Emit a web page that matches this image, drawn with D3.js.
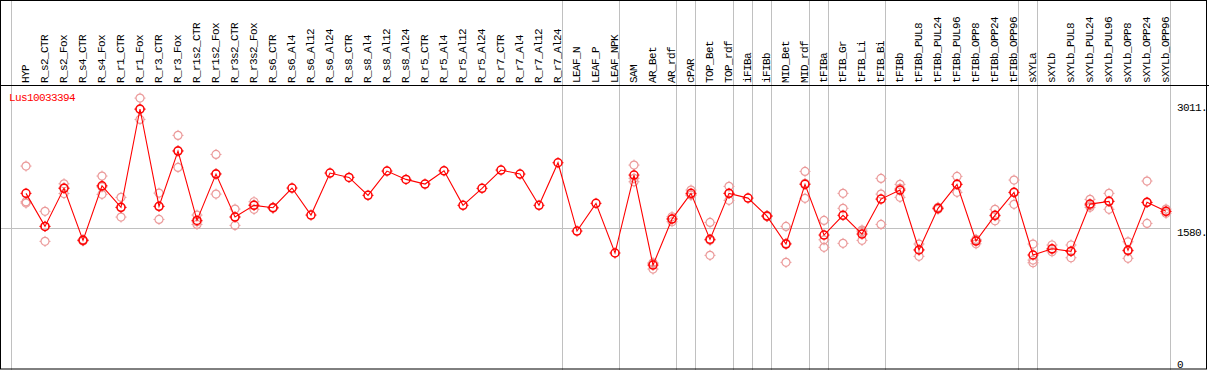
<!DOCTYPE html>
<html>
<head>
<meta charset="utf-8">
<script src="https://cdn.jsdelivr.net/npm/d3@7"></script>
<style>
  body { margin: 0; background: #fff; }
  svg { display: block; font-family: "Liberation Mono", "DejaVu Sans Mono", monospace; font-size: 11px; letter-spacing: -0.6px; }
</style>
</head>
<body>
<div id="chart"></div>
<script>
let width = 1209;
let height = 370;

// sample names along the top
let samples = ["HYP", "R_s2_CTR", "R_s2_Fox", "R_s4_CTR", "R_s4_Fox", "R_r1_CTR", "R_r1_Fox",
  "R_r3_CTR", "R_r3_Fox", "R_r1s2_CTR", "R_r1s2_Fox", "R_r3s2_CTR", "R_r3s2_Fox", "R_s6_CTR",
  "R_s6_Al4", "R_s6_Al12", "R_s6_Al24", "R_s8_CTR", "R_s8_Al4", "R_s8_Al12", "R_s8_Al24",
  "R_r5_CTR", "R_r5_Al4", "R_r5_Al12", "R_r5_Al24", "R_r7_CTR", "R_r7_Al4", "R_r7_Al12",
  "R_r7_Al24", "LEAF_N", "LEAF_P", "LEAF_NPK", "SAM", "AR_Bet", "AR_rdf", "cPAR", "TOP_Bet",
  "TOP_rdf", "iFIBa", "iFIBb", "MID_Bet", "MID_rdf", "tFIBa", "tFIB_Gr", "tFIB_Li", "tFIB_Bi",
  "tFIBb", "tFIBb_PUL8", "tFIBb_PUL24", "tFIBb_PUL96", "tFIBb_OPP8", "tFIBb_OPP24",
  "tFIBb_OPP96", "sXYLa", "sXYLb", "sXYLb_PUL8", "sXYLb_PUL24", "sXYLb_PUL96", "sXYLb_OPP8",
  "sXYLb_OPP24", "sXYLb_OPP96"];

// mean expression per sample
let means = [1997, 1600, 2057, 1432, 2088, 1829, 3011, 1841, 2505, 1672, 2229, 1712, 1853, 1824,
  2061, 1736, 2241, 2189, 1973, 2265, 2165, 2109, 2268, 1853, 2057, 2277, 2229, 1853, 2365,
  1544, 1877, 1280, 2217, 1135, 1688, 1997, 1444, 1997, 1940, 1724, 1388, 2105, 1496, 1733,
  1508, 1928, 2037, 1316, 1817, 2105, 1424, 1733, 2009, 1256, 1331, 1300, 1868, 1901, 1312,
  1889, 1781];

// individual replicates
let replicates = [[2325, 1896, 1880], [1781, 1420, 1600], [2112, 2064, 1995], [1440, 1425, 1432],
  [2205, 1985, 2074], [1949, 1712, 1826], [3142, 2886, 3005], [2000, 1684, 1839],
  [2694, 2309, 2512], [1736, 1624, 1656], [2465, 1988, 2234], [1808, 1612, 1716],
  [1896, 1805, 1858], [1830, 1818, 1824], [], [], [], [], [], [], [], [], [], [], [], [], [], [], [],
  [], [], [], [2337, 2136, 2178], [1163, 1087, 1155], [1716, 1656, 1692], [2037, 1977, 1977],
  [1648, 1252, 1432], [2081, 1913, 1997], [], [1730, 1718, 1724], [1600, 1168, 1396],
  [2261, 1937, 2117], [1672, 1439, 1348], [1997, 1817, 1396], [1556, 1432, 1536],
  [2177, 1988, 1624], [2105, 1949, 2057], [1388, 1240, 1320], [1830, 1805, 1817],
  [2201, 2009, 2105], [1444, 1391, 1437], [1805, 1668, 1726], [2157, 1865, 2005],
  [1388, 1195, 1163], [1376, 1295, 1322], [1376, 1223, 1301], [1925, 1829, 1850],
  [1997, 1805, 1901], [1415, 1216, 1305], [2145, 1636, 1886], [1808, 1757, 1778]];

// last sample index of each group (a separator follows it)
let groupEnds = [-1, 28, 31, 34, 35, 37, 38, 39, 41, 42, 45, 52, 53, 60];

let yTicks = [0, 1580, 3011];
let geneName = "Lus10033394";

let svg = d3.select("#chart")
  .append("svg")
  .attr("width", width)
  .attr("height", height);

let x = d3.scaleLinear().domain([0, samples.length - 1]).range([26, 1166]);
let y = d3.scaleLinear().domain([0, 3011]).range([359.5, 109]);

// group separators
svg.selectAll(".sep")
  .data(groupEnds)
  .enter()
  .append("line")
  .attr("x1", d => x(d) + 4.5)
  .attr("x2", d => x(d) + 4.5)
  .attr("y1", 0)
  .attr("y2", height)
  .attr("stroke", "#c0c0c0")
  .attr("stroke-width", 1);

// middle grid line
svg.append("line")
  .attr("x1", 1).attr("x2", x(groupEnds[groupEnds.length - 1]) + 4.5)
  .attr("y1", Math.round(y(1580)) + 0.5).attr("y2", Math.round(y(1580)) + 0.5)
  .attr("stroke", "#c0c0c0");

// frame
svg.append("rect")
  .attr("x", 0.5).attr("y", 0.5)
  .attr("width", 1206).attr("height", 368.5)
  .attr("fill", "none").attr("stroke", "black");
svg.append("line")
  .attr("x1", 0).attr("x2", width)
  .attr("y1", 85.5).attr("y2", 85.5)
  .attr("stroke", "black");

// sample labels
svg.selectAll(".lab")
  .data(samples)
  .enter()
  .append("text")
  .attr("transform", (d, i) => "translate(" + (x(i) + 3) + ",83) rotate(-90)")
  .attr("fill", "black")
  .text(d => d);

// y labels
svg.selectAll(".ylab")
  .data(yTicks)
  .enter()
  .append("text")
  .attr("x", 1177)
  .attr("y", d => d === 3011 ? y(d) + 2 : y(d) + 8)
  .attr("fill", "black")
  .text(d => d === 0 ? "0" : d + ".");

svg.append("text")
  .attr("x", 9).attr("y", 101)
  .attr("fill", "red")
  .text(geneName);

function marker(g, color, sw) {
  g.append("circle").attr("r", 4).attr("fill", "none")
    .attr("stroke", color).attr("stroke-width", sw);
  g.append("path")
    .attr("d", "M0,-5.5V-4M0,4V5.5M-5.5,0H-4M4,0H5.5")
    .attr("stroke", color).attr("stroke-width", 1);
}

// replicate points
let repPts = [];
replicates.forEach((r, i) => r.forEach(v => repPts.push({ i: i, v: v })));
svg.selectAll(".rep")
  .data(repPts)
  .enter()
  .append("g")
  .attr("transform", d => "translate(" + x(d.i) + "," + y(d.v) + ")")
  .each(function() { marker(d3.select(this), "#eb9a9a", 1.2); });

// mean line
let line = d3.line().x((d, i) => x(i)).y(d => y(d));
svg.append("path")
  .datum(means)
  .attr("d", line)
  .attr("fill", "none")
  .attr("stroke", "red")
  .attr("stroke-width", 1.1);

svg.selectAll(".mean")
  .data(means)
  .enter()
  .append("g")
  .attr("transform", (d, i) => "translate(" + x(i) + "," + y(d) + ")")
  .each(function() { marker(d3.select(this), "red", 1.5); });
</script>
</body>
</html>
